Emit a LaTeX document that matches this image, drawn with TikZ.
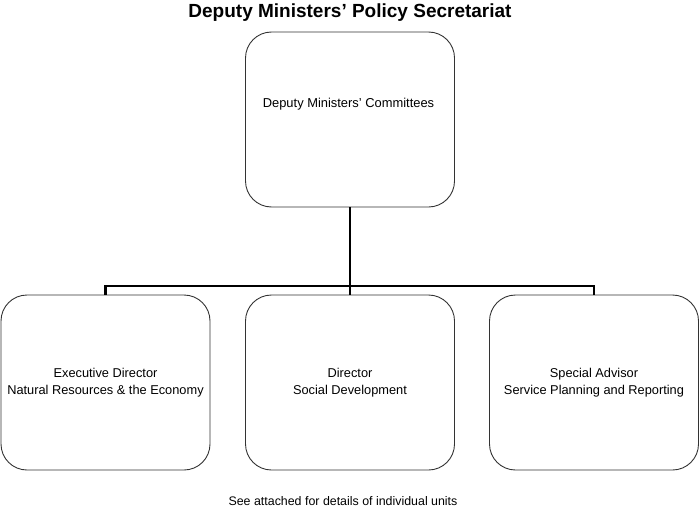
\documentclass[tikz,border=0pt]{standalone}
\usepackage{fontspec}
\setmainfont{Liberation Sans}
\begin{document}
\begin{tikzpicture}[x=1pt,y=-1pt,
  orgbox/.style={draw=black!80,line width=0.9pt,rounded corners=26pt,minimum width=209pt,minimum height=175pt,align=center,font=\fontsize{12.8}{16.5}\selectfont,inner sep=0pt},
  link/.style={line width=2.4pt,black}]
\useasboundingbox (0,0) rectangle (700,508);
\node[font=\bfseries\fontsize{19}{22}\selectfont] (title) at (350,13) {Deputy Ministers’ Policy Secretariat};
\node[orgbox] (top) at (350,119.5) {};
\node[font=\fontsize{12.9}{15}\selectfont] (toptext) at (348.5,104) {Deputy Ministers’ Committees};
\node[orgbox] (left) at (105.5,382.5) {Executive Director\\Natural Resources \& the Economy};
\node[orgbox] (mid) at (350,382.5) {Director\\Social Development};
\node[orgbox] (right) at (594,382.5) {Special Advisor\\Service Planning and Reporting};
\coordinate (bus) at (350,286);
\draw[link] (top.south) -- (bus);
\draw[link] (left.north) -- (left.north |- bus) -- (right.north |- bus) -- (right.north);
\draw[link] (bus) -- (mid.north);
\node[font=\fontsize{12.4}{14}\selectfont] (foot) at (343,501) {See attached for details of individual units};
\end{tikzpicture}
\end{document}
